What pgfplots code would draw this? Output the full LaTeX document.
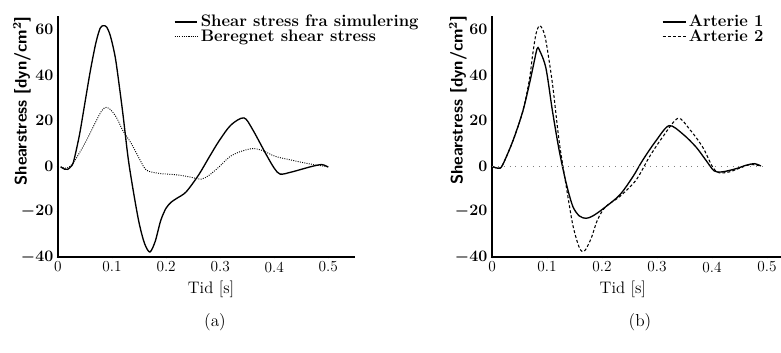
\documentclass[border=0pt]{standalone}
\usepackage{pgfplots}
\pgfplotsset{compat=1.18}
\begin{document}
\begin{tikzpicture}
\useasboundingbox (0,0) rectangle (585.75pt,264.75pt);
\pgfplotsset{
  myax/.style={
    scale only axis,
    anchor=south west,
    axis lines=left,
    axis line style={-, line width=0.9pt},
    ymin=-40, ymax=66,
    ytick={-40,-20,0,20,40,60},
    xtick={0,0.1,0.2,0.3,0.4,0.5},
    xticklabels={0,0.1,0.2,0.3,0.4,0.5},
    ticklabel style={font=\fontsize{11.5}{13}\selectfont\boldmath},
    yticklabel style={xshift=1pt},
    xticklabel style={yshift=1pt},
    major tick length=2pt,
    tick style={black, line width=0.5pt},
    ylabel={\fontsize{12.5}{14}\selectfont\sffamily\bfseries Shearstress [dyn/cm$^{\mathbf 2}$]},
    xlabel={\fontsize{12.5}{14}\selectfont Tid [s]},
    legend cell align=left,
    legend style={draw=none, fill=none, font=\fontsize{12.5}{13}\selectfont\bfseries, anchor=north west, row sep=-3pt, inner sep=1pt},
    clip=false,
  }
}
% ---------------- (a) ----------------
\begin{axis}[myax,
  at={(43.5pt,72pt)},
  width=223pt, height=181pt,
  xmin=0, xmax=0.55,
  ylabel style={at={(axis description cs:-0.121,0.647)}, anchor=center, rotate=0},
  xlabel style={at={(axis description cs:0.515,-0.135)}, anchor=center},
  legend style={at={(axis description cs:0.385,1.02)}},
]
\addplot[black, line width=1pt, smooth] coordinates {
(0.005,-0.4) (0.012,-1.4) (0.018,-1.5) (0.026,0.3) (0.03,3) (0.04,14) (0.05,28) (0.06,42)
(0.07,54) (0.078,60.5) (0.084,61.6) (0.09,61) (0.097,57) (0.106,47.6) (0.114,34) (0.121,21)
(0.13,3) (0.14,-12) (0.15,-25) (0.16,-34) (0.17,-37.8) (0.18,-33) (0.19,-24) (0.2,-18.5)
(0.21,-15.8) (0.22,-14.2) (0.237,-11.4) (0.26,-4) (0.28,4) (0.298,11) (0.32,18) (0.344,21.1)
(0.36,16) (0.384,5.5) (0.4,-1) (0.411,-3.6) (0.43,-2.8) (0.45,-1.5) (0.47,-0.2) (0.488,0.6) (0.5,-0.5)
};
\addlegendentry{Shear stress fra simulering}
\addplot[black, line width=0.7pt, densely dotted, smooth] coordinates {
(0.005,-0.4) (0.012,-1) (0.02,-0.6) (0.03,2) (0.05,10) (0.069,19) (0.081,24.3) (0.09,25.8)
(0.1,24) (0.11,20.5) (0.12,15.5) (0.136,9.7) (0.152,2.5) (0.164,-1.9) (0.188,-3.3) (0.219,-3.9)
(0.243,-4.8) (0.265,-5.8) (0.28,-4) (0.298,-0.4) (0.317,3.9) (0.335,6.1) (0.359,7.6) (0.378,6.8)
(0.402,4.2) (0.433,2.5) (0.463,1) (0.5,-0.4)
};
\addlegendentry{Beregnet shear stress}
\end{axis}
% ---------------- (b) ----------------
\begin{axis}[myax,
  at={(369pt,72pt)},
  width=218.6pt, height=181pt,
  xmin=0, xmax=0.53,
  ylabel style={at={(axis description cs:-0.117,0.65)}, anchor=center, rotate=0},
  xlabel style={at={(axis description cs:0.449,-0.135)}, anchor=center},
  legend style={at={(axis description cs:0.578,1.02)}},
]
\addplot[black, line width=1pt, smooth] coordinates {
(0.002,-0.4) (0.012,-1) (0.019,0.3) (0.038,11) (0.056,24) (0.068,36) (0.076,45) (0.082,51.5)
(0.086,51) (0.098,43) (0.11,24) (0.122,7) (0.135,-7.7) (0.147,-17.8) (0.159,-22) (0.171,-23)
(0.183,-22) (0.201,-19) (0.232,-12.8) (0.256,-4.8) (0.274,2.5) (0.298,11) (0.322,17.7)
(0.347,14) (0.371,8.3) (0.389,2.5) (0.404,-2.2) (0.419,-2.6) (0.444,-1.2) (0.462,0.3) (0.477,1) (0.489,0)
};
\addlegendentry{Arterie 1}
\addplot[black, line width=0.8pt, dash pattern=on 2.2pt off 1.6pt, smooth] coordinates {
(0.002,-0.4) (0.012,-1) (0.019,0.3) (0.038,11) (0.056,24) (0.068,38) (0.074,49) (0.08,58)
(0.086,61.6) (0.092,60) (0.098,55) (0.11,36) (0.122,11) (0.135,-9) (0.147,-26) (0.159,-36)
(0.168,-37.4) (0.18,-32) (0.192,-23.6) (0.207,-17.8) (0.232,-13.5) (0.262,-6.2) (0.286,3.9)
(0.31,12.6) (0.338,20.9) (0.359,16.2) (0.383,8.3) (0.401,-0.4) (0.413,-3) (0.432,-2.6)
(0.452,-0.8) (0.47,0.6) (0.489,0)
};
\addlegendentry{Arterie 2}
\addplot[gray, line width=0.4pt, loosely dotted, forget plot] coordinates {(0,0) (0.5,0)};
\end{axis}
\node at (161.25pt,23.25pt) {\fontsize{13}{15}\selectfont (a)};
\node at (480pt,23.25pt) {\fontsize{13}{15}\selectfont (b)};
\end{tikzpicture}
\end{document}
